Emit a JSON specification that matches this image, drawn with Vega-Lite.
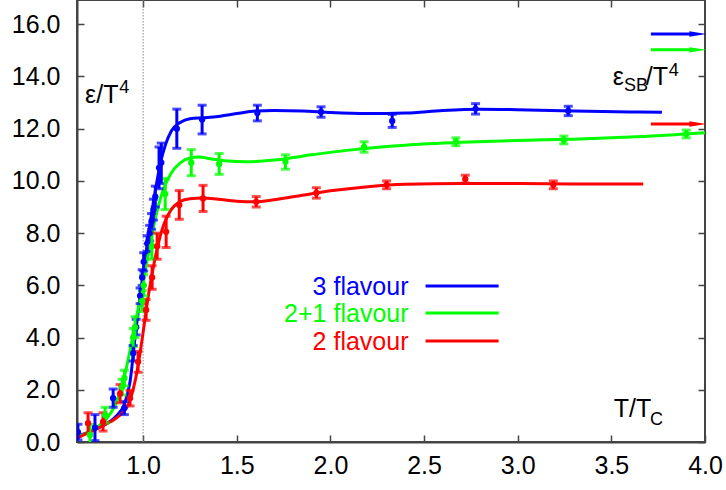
{
  "$schema": "https://vega.github.io/schema/vega-lite/v6.json",
  "width": 628,
  "height": 442,
  "autosize": {"type": "none"},
  "padding": {"left": 77, "right": 21, "top": 0, "bottom": 48},
  "config": {
    "view": {"stroke": "#444", "strokeWidth": 2},
    "font": "Liberation Sans",
    "axis": {
      "grid": false,
      "domainColor": "#444",
      "domainWidth": 2,
      "tickColor": "#444",
      "tickWidth": 1.5,
      "tickSize": -7,
      "labelFont": "Liberation Sans",
      "labelFontSize": 25,
      "labelColor": "#000",
      "title": null
    }
  },
  "datasets": {
    "curves": [
      {"s": "3", "x": 0.647, "y": 0.25}, {"s": "3", "x": 0.7, "y": 0.35}, {"s": "3", "x": 0.75, "y": 0.5}, {"s": "3", "x": 0.8, "y": 0.68}, {"s": "3", "x": 0.85, "y": 0.95}, {"s": "3", "x": 0.9, "y": 1.45}, {"s": "3", "x": 0.93, "y": 2.3}, {"s": "3", "x": 0.96, "y": 4.2}, {"s": "3", "x": 1.0, "y": 6.4}, {"s": "3", "x": 1.03, "y": 8.0}, {"s": "3", "x": 1.06, "y": 9.4}, {"s": "3", "x": 1.09, "y": 10.6}, {"s": "3", "x": 1.12, "y": 11.4}, {"s": "3", "x": 1.15, "y": 11.9}, {"s": "3", "x": 1.2, "y": 12.25}, {"s": "3", "x": 1.25, "y": 12.38}, {"s": "3", "x": 1.32, "y": 12.42}, {"s": "3", "x": 1.4, "y": 12.47}, {"s": "3", "x": 1.5, "y": 12.58}, {"s": "3", "x": 1.6, "y": 12.68}, {"s": "3", "x": 1.7, "y": 12.7}, {"s": "3", "x": 1.85, "y": 12.68}, {"s": "3", "x": 2.0, "y": 12.62}, {"s": "3", "x": 2.2, "y": 12.58}, {"s": "3", "x": 2.4, "y": 12.6}, {"s": "3", "x": 2.6, "y": 12.7}, {"s": "3", "x": 2.8, "y": 12.75}, {"s": "3", "x": 3.0, "y": 12.73}, {"s": "3", "x": 3.3, "y": 12.68}, {"s": "3", "x": 3.6, "y": 12.64}, {"s": "3", "x": 3.77, "y": 12.63},
      {"s": "2+1", "x": 0.647, "y": 0.2}, {"s": "2+1", "x": 0.7, "y": 0.35}, {"s": "2+1", "x": 0.75, "y": 0.55}, {"s": "2+1", "x": 0.8, "y": 0.85}, {"s": "2+1", "x": 0.85, "y": 1.4}, {"s": "2+1", "x": 0.9, "y": 2.5}, {"s": "2+1", "x": 0.93, "y": 3.5}, {"s": "2+1", "x": 0.96, "y": 4.6}, {"s": "2+1", "x": 1.0, "y": 6.1}, {"s": "2+1", "x": 1.03, "y": 7.3}, {"s": "2+1", "x": 1.06, "y": 8.4}, {"s": "2+1", "x": 1.1, "y": 9.5}, {"s": "2+1", "x": 1.15, "y": 10.3}, {"s": "2+1", "x": 1.2, "y": 10.7}, {"s": "2+1", "x": 1.25, "y": 10.88}, {"s": "2+1", "x": 1.3, "y": 10.92}, {"s": "2+1", "x": 1.35, "y": 10.86}, {"s": "2+1", "x": 1.45, "y": 10.76}, {"s": "2+1", "x": 1.55, "y": 10.73}, {"s": "2+1", "x": 1.7, "y": 10.8}, {"s": "2+1", "x": 1.9, "y": 11.0}, {"s": "2+1", "x": 2.1, "y": 11.18}, {"s": "2+1", "x": 2.4, "y": 11.37}, {"s": "2+1", "x": 2.7, "y": 11.48}, {"s": "2+1", "x": 3.0, "y": 11.55}, {"s": "2+1", "x": 3.3, "y": 11.6}, {"s": "2+1", "x": 3.6, "y": 11.68}, {"s": "2+1", "x": 4.0, "y": 11.85},
      {"s": "2", "x": 0.647, "y": 0.15}, {"s": "2", "x": 0.7, "y": 0.33}, {"s": "2", "x": 0.75, "y": 0.5}, {"s": "2", "x": 0.8, "y": 0.68}, {"s": "2", "x": 0.85, "y": 0.88}, {"s": "2", "x": 0.88, "y": 1.05}, {"s": "2", "x": 0.93, "y": 1.6}, {"s": "2", "x": 0.97, "y": 2.8}, {"s": "2", "x": 1.0, "y": 4.2}, {"s": "2", "x": 1.03, "y": 5.7}, {"s": "2", "x": 1.06, "y": 6.9}, {"s": "2", "x": 1.1, "y": 8.1}, {"s": "2", "x": 1.15, "y": 8.9}, {"s": "2", "x": 1.2, "y": 9.22}, {"s": "2", "x": 1.25, "y": 9.32}, {"s": "2", "x": 1.32, "y": 9.35}, {"s": "2", "x": 1.4, "y": 9.3}, {"s": "2", "x": 1.5, "y": 9.22}, {"s": "2", "x": 1.6, "y": 9.2}, {"s": "2", "x": 1.7, "y": 9.28}, {"s": "2", "x": 1.85, "y": 9.45}, {"s": "2", "x": 2.0, "y": 9.62}, {"s": "2", "x": 2.2, "y": 9.78}, {"s": "2", "x": 2.4, "y": 9.87}, {"s": "2", "x": 2.7, "y": 9.9}, {"s": "2", "x": 3.0, "y": 9.9}, {"s": "2", "x": 3.3, "y": 9.88}, {"s": "2", "x": 3.67, "y": 9.88}
    ],
    "points": [
      {"s": "3", "x": 0.652, "y": 0.38, "lo": 0.08, "hi": 0.68},
      {"s": "3", "x": 0.743, "y": 0.55, "lo": 0.05, "hi": 1.05},
      {"s": "3", "x": 0.84, "y": 1.68, "lo": 1.33, "hi": 2.03},
      {"s": "3", "x": 0.9, "y": 1.3, "lo": 1.05, "hi": 1.55},
      {"s": "3", "x": 0.947, "y": 3.4, "lo": 3.1, "hi": 3.7},
      {"s": "3", "x": 0.963, "y": 4.4, "lo": 4.1, "hi": 4.7},
      {"s": "3", "x": 0.984, "y": 5.6, "lo": 5.3, "hi": 5.9},
      {"s": "3", "x": 0.995, "y": 6.3, "lo": 6.0, "hi": 6.6},
      {"s": "3", "x": 1.003, "y": 6.9, "lo": 6.55, "hi": 7.25},
      {"s": "3", "x": 1.022, "y": 7.6, "lo": 7.3, "hi": 7.9},
      {"s": "3", "x": 1.035, "y": 8.0, "lo": 7.7, "hi": 8.3},
      {"s": "3", "x": 1.045, "y": 8.45, "lo": 8.15, "hi": 8.75},
      {"s": "3", "x": 1.055, "y": 8.9, "lo": 8.5, "hi": 9.3},
      {"s": "3", "x": 1.065, "y": 9.4, "lo": 9.0, "hi": 9.8},
      {"s": "3", "x": 1.085, "y": 10.5, "lo": 9.7, "hi": 11.3},
      {"s": "3", "x": 1.097, "y": 10.7, "lo": 9.9, "hi": 11.45},
      {"s": "3", "x": 1.18, "y": 12.0, "lo": 11.25, "hi": 12.75},
      {"s": "3", "x": 1.315, "y": 12.35, "lo": 11.8, "hi": 12.9},
      {"s": "3", "x": 1.61, "y": 12.6, "lo": 12.3, "hi": 12.9},
      {"s": "3", "x": 1.95, "y": 12.64, "lo": 12.44, "hi": 12.84},
      {"s": "3", "x": 2.33, "y": 12.3, "lo": 12.05, "hi": 12.55},
      {"s": "3", "x": 2.775, "y": 12.76, "lo": 12.56, "hi": 12.96},
      {"s": "3", "x": 3.27, "y": 12.68, "lo": 12.5, "hi": 12.86},
      {"s": "2+1", "x": 0.716, "y": 0.27, "lo": -0.13, "hi": 0.67},
      {"s": "2+1", "x": 0.797, "y": 1.03, "lo": 0.73, "hi": 1.33},
      {"s": "2+1", "x": 0.888, "y": 2.1, "lo": 1.8, "hi": 2.4},
      {"s": "2+1", "x": 0.9, "y": 2.45, "lo": 2.15, "hi": 2.75},
      {"s": "2+1", "x": 0.947, "y": 4.0, "lo": 3.65, "hi": 4.35},
      {"s": "2+1", "x": 0.957, "y": 4.4, "lo": 4.0, "hi": 4.8},
      {"s": "2+1", "x": 0.995, "y": 5.4, "lo": 5.0, "hi": 5.8},
      {"s": "2+1", "x": 1.003, "y": 6.0, "lo": 5.6, "hi": 6.4},
      {"s": "2+1", "x": 1.047, "y": 7.5, "lo": 7.0, "hi": 8.0},
      {"s": "2+1", "x": 1.118, "y": 9.5, "lo": 8.9, "hi": 10.1},
      {"s": "2+1", "x": 1.257, "y": 10.7, "lo": 10.2, "hi": 11.2},
      {"s": "2+1", "x": 1.406, "y": 10.65, "lo": 10.25, "hi": 11.05},
      {"s": "2+1", "x": 1.76, "y": 10.73, "lo": 10.45, "hi": 11.0},
      {"s": "2+1", "x": 2.18, "y": 11.3, "lo": 11.1, "hi": 11.5},
      {"s": "2+1", "x": 2.67, "y": 11.5, "lo": 11.35, "hi": 11.65},
      {"s": "2+1", "x": 3.246, "y": 11.57, "lo": 11.42, "hi": 11.72},
      {"s": "2+1", "x": 3.9, "y": 11.8, "lo": 11.65, "hi": 11.95},
      {"s": "2", "x": 0.706, "y": 0.72, "lo": 0.32, "hi": 1.12},
      {"s": "2", "x": 0.786, "y": 0.77, "lo": 0.42, "hi": 1.12},
      {"s": "2", "x": 0.877, "y": 1.85, "lo": 1.5, "hi": 2.2},
      {"s": "2", "x": 0.93, "y": 1.68, "lo": 1.38, "hi": 1.98},
      {"s": "2", "x": 0.973, "y": 3.07, "lo": 2.67, "hi": 3.47},
      {"s": "2", "x": 1.016, "y": 5.06, "lo": 4.66, "hi": 5.46},
      {"s": "2", "x": 1.048, "y": 6.3, "lo": 5.85, "hi": 6.75},
      {"s": "2", "x": 1.075, "y": 7.5, "lo": 7.0, "hi": 8.0},
      {"s": "2", "x": 1.123, "y": 8.05, "lo": 7.45, "hi": 8.65},
      {"s": "2", "x": 1.193, "y": 9.08, "lo": 8.53, "hi": 9.63},
      {"s": "2", "x": 1.32, "y": 9.33, "lo": 8.83, "hi": 9.83},
      {"s": "2", "x": 1.604, "y": 9.2, "lo": 9.0, "hi": 9.4},
      {"s": "2", "x": 1.925, "y": 9.54, "lo": 9.34, "hi": 9.74},
      {"s": "2", "x": 2.3, "y": 9.85, "lo": 9.7, "hi": 10.0},
      {"s": "2", "x": 2.72, "y": 10.07, "lo": 9.92, "hi": 10.22},
      {"s": "2", "x": 3.19, "y": 9.85, "lo": 9.7, "hi": 10.0}
    ],
    "arrows": [
      {"s": "3", "x": 3.711, "x2": 3.93, "xh": 3.962, "y": 15.63},
      {"s": "2+1", "x": 3.711, "x2": 3.93, "xh": 3.962, "y": 15.02},
      {"s": "2", "x": 3.711, "x2": 3.93, "xh": 3.962, "y": 12.18}
    ],
    "legend": [
      {"s": "3", "label": "3 flavour", "tx": 2.417, "ty": 5.63, "x": 2.508, "x2": 2.898, "y": 5.98},
      {"s": "2+1", "label": "2+1 flavour", "tx": 2.417, "ty": 4.6, "x": 2.508, "x2": 2.898, "y": 4.94},
      {"s": "2", "label": "2 flavour", "tx": 2.417, "ty": 3.52, "x": 2.508, "x2": 2.898, "y": 3.87}
    ],
    "mainText": [
      {"t": "ε/T", "x": 0.69, "y": 12.99},
      {"t": "ε", "x": 3.508, "y": 13.68},
      {"t": "/T", "x": 3.684, "y": 13.68},
      {"t": "T/T", "x": 3.513, "y": 0.96}
    ],
    "smallText": [
      {"t": "4", "x": 0.872, "y": 13.37},
      {"t": "SB", "x": 3.567, "y": 13.45},
      {"t": "4", "x": 3.807, "y": 14.02},
      {"t": "C", "x": 3.706, "y": 0.65}
    ],
    "vline": [{"x": 1.0}]
  },
  "layer": [
    {
      "data": {"name": "vline"},
      "mark": {"type": "rule", "color": "#888", "strokeWidth": 1, "strokeDash": [1.5, 1.5]},
      "encoding": {
        "x": {"field": "x", "type": "quantitative", "scale": {"domain": [0.647, 4.0], "nice": false, "zero": false},
          "axis": {"orient": "bottom", "values": [1.0, 1.5, 2.0, 2.5, 3.0, 3.5, 4.0], "format": ".1f", "labelPadding": 18, "labelFlush": false, "title": null}}
      }
    },
    {
      "data": {"name": "curves"},
      "mark": {"type": "line", "interpolate": "monotone", "strokeWidth": 3, "clip": true},
      "encoding": {
        "x": {"field": "x", "type": "quantitative", "scale": {"domain": [0.647, 4.0], "nice": false, "zero": false},
          "axis": {"orient": "top", "values": [1.0, 1.5, 2.0, 2.5, 3.0, 3.5], "labels": false, "domain": false, "title": null}},
        "y": {"field": "y", "type": "quantitative", "scale": {"domain": [0, 16.93], "nice": false, "zero": false},
          "axis": {"orient": "left", "values": [0, 2, 4, 6, 8, 10, 12, 14, 16], "format": ".1f", "labelPadding": 24, "labelFlush": false, "title": null}},
        "color": {"field": "s", "type": "nominal", "scale": {"domain": ["3", "2+1", "2"], "range": ["#0000ff", "#00ff00", "#ff0000"]}, "legend": null}
      }
    },
    {
      "data": {"name": "points"},
      "mark": {"type": "errorbar", "ticks": {"size": 9, "thickness": 3}, "thickness": 3, "clip": true},
      "encoding": {
        "x": {"field": "x", "type": "quantitative", "axis": null},
        "y": {"field": "lo", "type": "quantitative", "title": null, "axis": {"orient": "right", "values": [0, 2, 4, 6, 8, 10, 12, 14, 16], "labels": false, "domain": false, "title": null}},
        "y2": {"field": "hi"},
        "color": {"field": "s", "type": "nominal", "legend": null}
      }
    },
    {
      "data": {"name": "points"},
      "mark": {"type": "point", "filled": true, "size": 40, "opacity": 1, "clip": true},
      "encoding": {
        "x": {"field": "x", "type": "quantitative", "axis": null},
        "y": {"field": "y", "type": "quantitative", "axis": null},
        "color": {"field": "s", "type": "nominal", "legend": null}
      }
    },
    {
      "data": {"name": "arrows"},
      "mark": {"type": "rule", "strokeWidth": 3},
      "encoding": {
        "x": {"field": "x", "type": "quantitative", "axis": null},
        "x2": {"field": "x2"},
        "y": {"field": "y", "type": "quantitative", "axis": null},
        "color": {"field": "s", "type": "nominal", "legend": null}
      }
    },
    {
      "data": {"name": "arrows"},
      "mark": {"type": "point", "filled": true, "opacity": 1, "size": 289, "shape": "M-1,-0.32L1,0L-1,0.32Z"},
      "encoding": {
        "x": {"field": "xh", "type": "quantitative", "axis": null},
        "y": {"field": "y", "type": "quantitative", "axis": null},
        "color": {"field": "s", "type": "nominal", "legend": null}
      }
    },
    {
      "data": {"name": "legend"},
      "mark": {"type": "rule", "strokeWidth": 3},
      "encoding": {
        "x": {"field": "x", "type": "quantitative", "axis": null},
        "x2": {"field": "x2"},
        "y": {"field": "y", "type": "quantitative", "axis": null},
        "color": {"field": "s", "type": "nominal", "legend": null}
      }
    },
    {
      "data": {"name": "legend"},
      "mark": {"type": "text", "align": "right", "baseline": "alphabetic", "fontSize": 25, "font": "Liberation Sans"},
      "encoding": {
        "x": {"field": "tx", "type": "quantitative", "axis": null},
        "y": {"field": "ty", "type": "quantitative", "axis": null},
        "text": {"field": "label"},
        "color": {"field": "s", "type": "nominal", "legend": null}
      }
    },
    {
      "data": {"name": "mainText"},
      "mark": {"type": "text", "align": "left", "baseline": "alphabetic", "fontSize": 25, "font": "Liberation Sans", "color": "#000"},
      "encoding": {
        "x": {"field": "x", "type": "quantitative", "axis": null},
        "y": {"field": "y", "type": "quantitative", "axis": null},
        "text": {"field": "t"}
      }
    },
    {
      "data": {"name": "smallText"},
      "mark": {"type": "text", "align": "left", "baseline": "alphabetic", "fontSize": 18, "font": "Liberation Sans", "color": "#000"},
      "encoding": {
        "x": {"field": "x", "type": "quantitative", "axis": null},
        "y": {"field": "y", "type": "quantitative", "axis": null},
        "text": {"field": "t"}
      }
    }
  ],
  "resolve": {"axis": {"x": "independent", "y": "independent"}}
}
